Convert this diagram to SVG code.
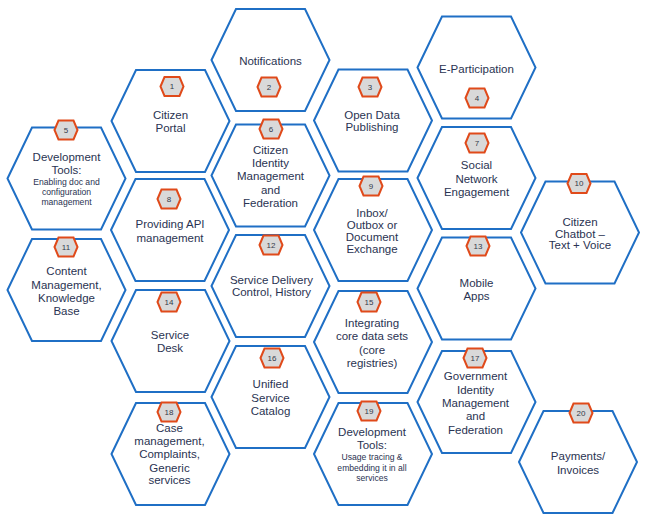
<svg xmlns="http://www.w3.org/2000/svg" xmlns:xlink="http://www.w3.org/1999/xlink" width="649" height="527" viewBox="0 0 649 527">
<style>
.hex{fill:#ffffff;stroke:#1f6fc5;stroke-width:2;stroke-linejoin:miter}
.bdg{fill:#d9d9d9;stroke:#e04a1a;stroke-width:2}
.t{font-family:"Liberation Sans",Arial,sans-serif;font-size:11.5px;fill:#2a3352;text-anchor:middle}
.s{font-family:"Liberation Sans",Arial,sans-serif;font-size:8.6px;fill:#2a3352;text-anchor:middle}
.n{font-family:"Liberation Sans",Arial,sans-serif;font-size:8px;fill:#333a4a;text-anchor:middle}
</style>
<defs>
<polygon id="hx" class="hex" points="-59,0 -34.5,-51 34.5,-51 59,0 34.5,51 -34.5,51"/>
<polygon id="bd" class="bdg" points="-11.5,0 -7.5,-9.5 7.5,-9.5 11.5,0 7.5,9.5 -7.5,9.5"/>
</defs>
<rect width="649" height="527" fill="#ffffff"/>

<g id="node1"><use xlink:href="#hx" x="170.5" y="121"/><use xlink:href="#bd" x="172" y="86.5"/><text class="n" x="172" y="89.3">1</text>
<text class="t" y="119.2"><tspan x="170.5">Citizen</tspan><tspan x="170.5" dy="13">Portal</tspan></text></g>

<g id="node2"><use xlink:href="#hx" x="270.5" y="60"/><use xlink:href="#bd" x="269" y="87"/><text class="n" x="269" y="89.8">2</text>
<text class="t" x="270.5" y="65.2">Notifications</text></g>

<g id="node3"><use xlink:href="#hx" x="373" y="120.5"/><use xlink:href="#bd" x="370" y="87"/><text class="n" x="370" y="89.8">3</text>
<text class="t" y="118.5"><tspan x="372">Open Data</tspan><tspan x="372" dy="12.7">Publishing</tspan></text></g>

<g id="node4"><use xlink:href="#hx" x="476.5" y="67.5"/><use xlink:href="#bd" x="477" y="98"/><text class="n" x="477" y="100.8">4</text>
<text class="t" x="476.5" y="72.5">E-Participation</text></g>

<g id="node5"><use xlink:href="#hx" x="66.5" y="178.5"/><use xlink:href="#bd" x="66" y="130"/><text class="n" x="66" y="132.8">5</text>
<text class="t" y="160.9"><tspan x="66.5">Development</tspan><tspan x="66.5" dy="13.3">Tools:</tspan></text>
<text class="s" y="184.8"><tspan x="66.5">Enabling doc and</tspan><tspan x="66.5" dy="10.6">configuration</tspan><tspan x="66.5" dy="9.9">management</tspan></text></g>

<g id="node6"><use xlink:href="#hx" x="270.5" y="175.5"/><use xlink:href="#bd" x="271" y="129"/><text class="n" x="271" y="131.8">6</text>
<text class="t" y="154.2"><tspan x="270.5">Citizen</tspan><tspan x="270.5" dy="12.7">Identity</tspan><tspan x="270.5" dy="13.3">Management</tspan><tspan x="270.5" dy="13.3">and</tspan><tspan x="270.5" dy="13.4">Federation</tspan></text></g>

<g id="node7"><use xlink:href="#hx" x="476.5" y="178"/><use xlink:href="#bd" x="477" y="143"/><text class="n" x="477" y="145.8">7</text>
<text class="t" y="169.2"><tspan x="476.5">Social</tspan><tspan x="476.5" dy="13.3">Network</tspan><tspan x="476.5" dy="13.4">Engagement</tspan></text></g>

<g id="node8"><use xlink:href="#hx" x="170" y="230"/><use xlink:href="#bd" x="169" y="199"/><text class="n" x="169" y="201.8">8</text>
<text class="t" y="227.5"><tspan x="170">Providing API</tspan><tspan x="170" dy="14.2">management</tspan></text></g>

<g id="node9"><use xlink:href="#hx" x="373" y="230"/><use xlink:href="#bd" x="371" y="186"/><text class="n" x="371" y="188.8">9</text>
<text class="t" y="216.9"><tspan x="372">Inbox/</tspan><tspan x="372" dy="12.3">Outbox or</tspan><tspan x="372" dy="12">Document</tspan><tspan x="372" dy="12">Exchange</tspan></text></g>

<g id="node10"><use xlink:href="#hx" x="580" y="232.5"/><use xlink:href="#bd" x="579" y="183.5"/><text class="n" x="579" y="186.3">10</text>
<text class="t" y="225.9"><tspan x="580">Citizen</tspan><tspan x="580" dy="11.6">Chatbot –</tspan><tspan x="580" dy="11.7">Text + Voice</tspan></text></g>

<g id="node11"><use xlink:href="#hx" x="66.5" y="290"/><use xlink:href="#bd" x="66" y="247"/><text class="n" x="66" y="249.8">11</text>
<text class="t" y="275.2"><tspan x="66.5">Content</tspan><tspan x="66.5" dy="13.3">Management,</tspan><tspan x="66.5" dy="13.4">Knowledge</tspan><tspan x="66.5" dy="13">Base</tspan></text></g>

<g id="node12"><use xlink:href="#hx" x="270.5" y="286"/><use xlink:href="#bd" x="271" y="245"/><text class="n" x="271" y="247.8">12</text>
<text class="t" y="284.2"><tspan x="271.5">Service Delivery</tspan><tspan x="271.5" dy="11.7">Control, History</tspan></text></g>

<g id="node13"><use xlink:href="#hx" x="476.5" y="288.5"/><use xlink:href="#bd" x="478" y="246"/><text class="n" x="478" y="248.8">13</text>
<text class="t" y="286.5"><tspan x="476.5">Mobile</tspan><tspan x="476.5" dy="13.4">Apps</tspan></text></g>

<g id="node14"><use xlink:href="#hx" x="170.5" y="341"/><use xlink:href="#bd" x="169" y="302"/><text class="n" x="169" y="304.8">14</text>
<text class="t" y="338.5"><tspan x="170">Service</tspan><tspan x="170" dy="13">Desk</tspan></text></g>

<g id="node15"><use xlink:href="#hx" x="373" y="342"/><use xlink:href="#bd" x="369" y="302"/><text class="n" x="369" y="304.8">15</text>
<text class="t" y="326.9"><tspan x="372">Integrating</tspan><tspan x="372" dy="13.3">core data sets</tspan><tspan x="372" dy="13.3">(core</tspan><tspan x="372" dy="13">registries)</tspan></text></g>

<g id="node16"><use xlink:href="#hx" x="270.5" y="397"/><use xlink:href="#bd" x="272" y="358"/><text class="n" x="272" y="360.8">16</text>
<text class="t" y="388.2"><tspan x="270.5">Unified</tspan><tspan x="270.5" dy="13.3">Service</tspan><tspan x="270.5" dy="13.4">Catalog</tspan></text></g>

<g id="node17"><use xlink:href="#hx" x="476.5" y="402"/><use xlink:href="#bd" x="475" y="358"/><text class="n" x="475" y="360.8">17</text>
<text class="t" y="380.2"><tspan x="475.5">Government</tspan><tspan x="475.5" dy="13.3">Identity</tspan><tspan x="475.5" dy="13.4">Management</tspan><tspan x="475.5" dy="13.3">and</tspan><tspan x="475.5" dy="13.3">Federation</tspan></text></g>

<g id="node18"><use xlink:href="#hx" x="170.5" y="454"/><use xlink:href="#bd" x="169" y="412"/><text class="n" x="169" y="414.8">18</text>
<text class="t" y="431.5"><tspan x="169.5">Case</tspan><tspan x="169.5" dy="13.4">management,</tspan><tspan x="169.5" dy="13.3">Complaints,</tspan><tspan x="169.5" dy="13.3">Generic</tspan><tspan x="169.5" dy="12.7">services</tspan></text></g>

<g id="node19"><use xlink:href="#hx" x="373" y="454"/><use xlink:href="#bd" x="369" y="411"/><text class="n" x="369" y="413.8">19</text>
<text class="t" y="435.9"><tspan x="372">Development</tspan><tspan x="372" dy="12.6">Tools:</tspan></text>
<text class="s" y="460.1"><tspan x="372">Usage tracing &amp;</tspan><tspan x="372" dy="10.7">embedding it in all</tspan><tspan x="372" dy="10">services</tspan></text></g>

<g id="node20"><use xlink:href="#hx" x="578" y="462"/><use xlink:href="#bd" x="581" y="413"/><text class="n" x="581" y="415.8">20</text>
<text class="t" y="460.2"><tspan x="578">Payments/</tspan><tspan x="578" dy="13.3">Invoices</tspan></text></g>
</svg>
